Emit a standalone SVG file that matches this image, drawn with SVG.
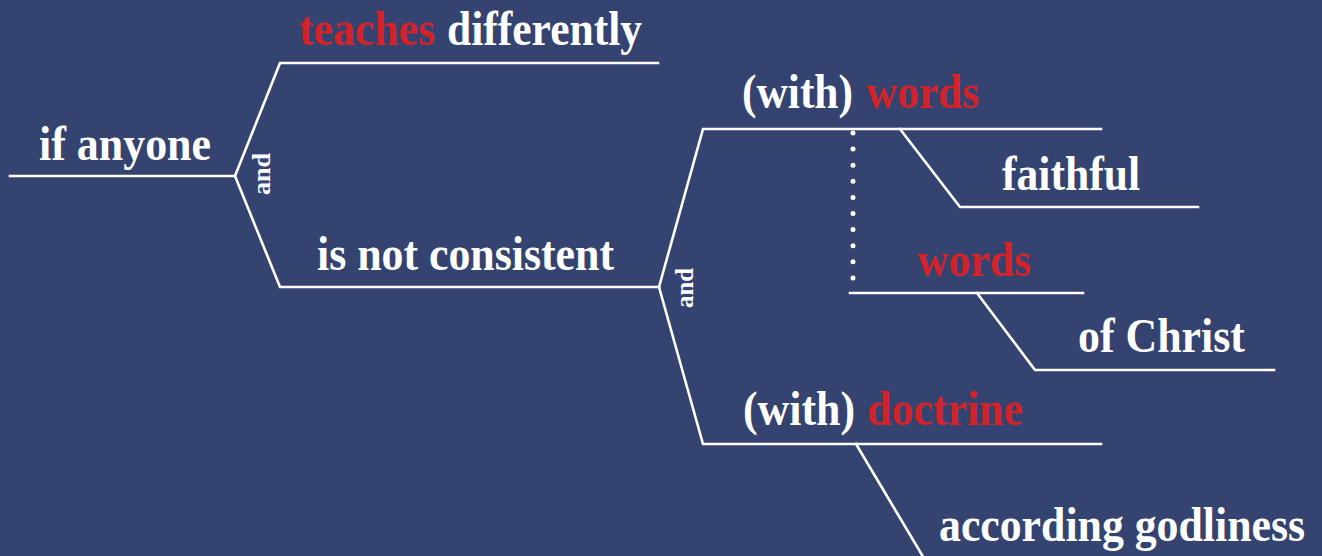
<svg xmlns="http://www.w3.org/2000/svg" width="1322" height="556" viewBox="0 0 1322 556">
<style>
.ln{stroke:#ffffff;stroke-width:2.6;fill:none;stroke-linecap:square}
.dot{stroke:#ffffff;stroke-width:5;fill:none;stroke-linecap:round;stroke-dasharray:0 16.1}
.t{font-family:"Liberation Serif","Times New Roman",serif;font-weight:bold;font-size:49px;fill:#ffffff}
.c{font-family:"Liberation Serif","Times New Roman",serif;font-weight:bold;font-size:25px;fill:#ffffff}
.r{fill:#d2232a}
</style>
<rect x="0" y="0" width="1322" height="556" fill="#344370"/>
<g id="connectors">
<path class="ln" d="M10 176H235L280 63H658"/>
<path class="ln" d="M235 176L280 287H659"/>
<path class="ln" d="M659 287L703 129H1101"/>
<path class="ln" d="M659 287L703 444H1101"/>
<path class="ln" d="M900 129L960 207H1198"/>
<path class="ln" d="M850 293H1083"/>
<path class="ln" d="M977 293L1035 370H1274"/>
<path class="ln" d="M856 444L925 560"/>
<path class="dot" d="M853 133V279"/>
</g>
<g id="n-if-anyone"><text class="t" x="39" y="160" textLength="172" lengthAdjust="spacingAndGlyphs">if anyone</text></g>
<g id="n-and1"><text class="c" transform="translate(270 195) rotate(-90)" textLength="42" lengthAdjust="spacingAndGlyphs">and</text></g>
<g id="n-teaches"><text class="t r" x="299" y="45" textLength="136" lengthAdjust="spacingAndGlyphs">teaches</text><text class="t" x="447" y="45" textLength="195" lengthAdjust="spacingAndGlyphs">differently</text></g>
<g id="n-consistent"><text class="t" x="317" y="270" textLength="297" lengthAdjust="spacingAndGlyphs">is not consistent</text></g>
<g id="n-and2"><text class="c" transform="translate(693 308) rotate(-90)" textLength="40" lengthAdjust="spacingAndGlyphs">and</text></g>
<g id="n-with-words"><text class="t" x="742" y="108" textLength="111" lengthAdjust="spacingAndGlyphs">(with)</text><text class="t r" x="866" y="108" textLength="113" lengthAdjust="spacingAndGlyphs">words</text></g>
<g id="n-faithful"><text class="t" x="1002" y="190" textLength="138" lengthAdjust="spacingAndGlyphs">faithful</text></g>
<g id="n-words"><text class="t r" x="917" y="276" textLength="114" lengthAdjust="spacingAndGlyphs">words</text></g>
<g id="n-of-christ"><text class="t" x="1078" y="352" textLength="167" lengthAdjust="spacingAndGlyphs">of Christ</text></g>
<g id="n-with-doctrine"><text class="t" x="743" y="425" textLength="112" lengthAdjust="spacingAndGlyphs">(with)</text><text class="t r" x="867" y="425" textLength="156" lengthAdjust="spacingAndGlyphs">doctrine</text></g>
<g id="n-according"><text class="t" x="939" y="541" textLength="366" lengthAdjust="spacingAndGlyphs">according godliness</text></g>
</svg>
